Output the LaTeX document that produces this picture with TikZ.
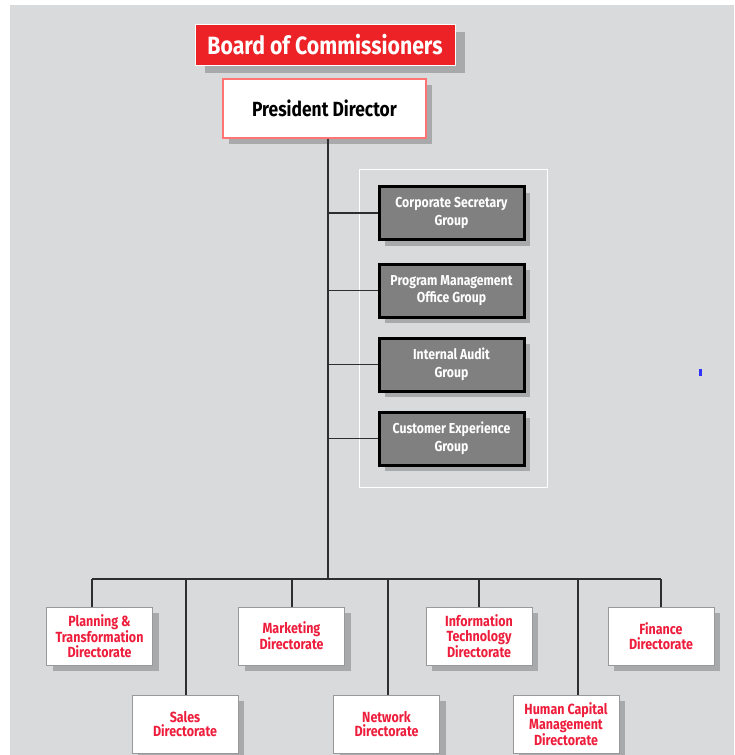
\documentclass[tikz,border=0pt]{standalone}
\usepackage{fontspec}
\setmainfont{Fira Sans}[FakeStretch=0.85]
\usetikzlibrary{shadows}
\definecolor{bg}{HTML}{D9DADC}
\definecolor{redbox}{HTML}{EC2227}
\definecolor{redtext}{HTML}{EE1D3C}
\definecolor{shadowgray}{HTML}{A8A9AB}
\definecolor{grpfill}{HTML}{808080}
\definecolor{linec}{HTML}{2E2E2E}
\begin{document}
\begin{tikzpicture}[x=1pt,y=-1pt,
  shad/.style={drop shadow={shadow xshift=6pt,shadow yshift=-6pt,fill=shadowgray,opacity=1}},
  boardbox/.style={draw=white,line width=1pt,fill=redbox,text=white,font=\bfseries\fontsize{25}{27}\selectfont,
     minimum width=260pt,minimum height=41pt,inner sep=0pt,
     drop shadow={shadow xshift=10pt,shadow yshift=-7pt,fill=shadowgray,opacity=1}},
  presbox/.style={draw=red!55,line width=1.3pt,fill=white,text=black,font=\bfseries\fontsize{20.5}{22}\selectfont,
     minimum width=203pt,minimum height=59pt,inner sep=0pt,shad},
  grpbox/.style={draw=black,line width=3pt,fill=grpfill,text=white,font=\bfseries\fontsize{14.4}{17.5}\selectfont,
     minimum width=145pt,minimum height=53pt,inner sep=0pt,align=center,shad},
  dirbox/.style={draw=gray!80,line width=1pt,fill=white,text=redtext,font=\bfseries\fontsize{14.7}{14.5}\selectfont,
     minimum width=106pt,minimum height=58pt,inner sep=0pt,align=center,shad},
  conn/.style={draw=linec,line width=1.4pt}]
\useasboundingbox (0,0) rectangle (734,755);
\fill[white] (0,0) rectangle (734,755);
\fill[bg] (10,5) rectangle (734,755);

% panel
\draw[white,line width=1pt] (359,169) rectangle (547,487);

\coordinate (bus) at (328,579);

% main line
\node[presbox] (pd) at (324.5,108.5) {President Director};
\draw[conn] (bus |- pd.south) -- (bus);

% groups
\node[grpbox] (g1) at (451.5,213) {Corporate Secretary\\Group};
\node[grpbox] (g2) at (451.5,290.5) {Program Management\\Office Group};
\node[grpbox] (g3) at (451.5,364.5) {Internal Audit\\Group};
\node[grpbox] (g4) at (451.5,438.5) {Customer Experience\\Group};
\foreach \g in {g1,g2,g3,g4} \draw[conn] (bus |- \g.west) -- (\g.west);

% directorate drops
\coordinate (t1) at (92,579);
\coordinate (t2) at (186,579);
\coordinate (t3) at (292,579);
\coordinate (t4) at (388,579);
\coordinate (t5) at (479,579);
\coordinate (t6) at (578,579);
\coordinate (t7) at (661,579);
\draw[conn] (t1) -- (t7);

\node[dirbox] (d1) at (99.5,636) {Planning \&\\Transformation\\Directorate};
\node[dirbox] (d2) at (185,724) {Sales\\Directorate};
\node[dirbox] (d3) at (291.5,636) {Marketing\\Directorate};
\node[dirbox] (d4) at (386.5,724) {Network\\Directorate};
\node[dirbox] (d5) at (479,636) {Information\\Technology\\Directorate};
\node[dirbox] (d6) at (566,724) {Human Capital\\Management\\Directorate};
\node[dirbox] (d7) at (661,636) {Finance\\Directorate};
\foreach \i in {1,...,7} \draw[conn] (t\i) -- (t\i |- d\i.north);

% board
\node[boardbox] (bc) at (325,45) {Board of Commissioners};

% small blue mark
\fill[blue!80] (699,369) rectangle (701.5,376);
\end{tikzpicture}
\end{document}
